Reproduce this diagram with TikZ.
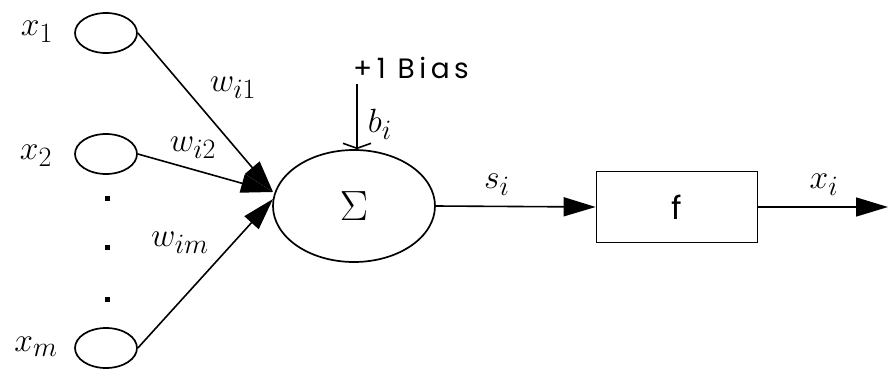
\documentclass[tikz,border=0pt]{standalone}
\usepackage{fontspec}
\newfontfamily\labfont[LetterSpace=16]{Poppins}
\newfontfamily\ffont{Poppins}
\usetikzlibrary{arrows.meta,shapes.geometric}
\newcommand{\mylab}[1]{\scalebox{1.35}{\fontsize{24.88}{28}\selectfont$#1$}}
\tikzset{
  inp/.style={ellipse,draw,line width=1.7pt,minimum width=62pt,minimum height=40pt,inner sep=0pt},
  conn/.style={line width=1.6pt},
  arr/.style={conn,-{Triangle[length=32pt,width=19pt]}},
  lab/.style={inner sep=0pt},
  txt/.style={font=\labfont\fontsize{28}{32}\selectfont,inner sep=0pt},
  dotn/.style={rectangle,fill,inner sep=0pt,minimum size=5pt}
}
\begin{document}
\begin{tikzpicture}[x=1pt,y=-1pt]
\useasboundingbox (0,0) rectangle (888,369);
% inputs
\node[inp] (in1) at (106,33) {};
\node[inp] (in2) at (106,154) {};
\node[inp] (inm) at (106,348) {};
\node[lab] (l1) at (37,32) {\mylab{x_1}};
\node[lab] (l2) at (36,156) {\mylab{x_2}};
\node[lab] (lm) at (36,347) {\mylab{x_m}};
\node[dotn] (d1) at (107,198) {};
\node[dotn] (d2) at (107,247) {};
\node[dotn] (d3) at (107,299) {};
% summation
\node[ellipse,draw,line width=1.7pt,minimum width=162pt,minimum height=112pt,inner sep=0pt] (sum) at (354,206) {\scalebox{1.7}{\fontsize{24.88}{30}\selectfont$\Sigma$}};
\coordinate (tipA) at (273,192);
\coordinate (tipB) at (273,199);
\draw[arr] (in1.east) -- (tipA);
\draw[arr] (in2.east) -- (tipA);
\draw[arr] (inm.east) -- (tipB);
\node[lab] (w1) at (233,88) {\mylab{w_{i1}}};
\node[lab] (w2) at (193,148) {\mylab{w_{i2}}};
\node[lab] (wm) at (180,243) {\mylab{w_{im}}};
% bias
\node[txt] (bias) at (411,68) {+1 Bias};
\coordinate (btop) at (357,84);
\draw[conn,-{Straight Barb[length=5pt,width=28pt]}] (btop) -- (sum.north -| btop);
\node[lab] (bi) at (380,124) {\mylab{b_i}};
% activation
\node[draw,line width=1.7pt,minimum width=161pt,minimum height=71pt,inner sep=0pt] (f) at (677,207) {\ffont\fontsize{32}{36}\selectfont f};
\draw[arr] (sum.east) -- (f.west);
\node[lab] (si) at (497,185) {\mylab{s_i}};
\coordinate (out) at (888,207);
\draw[arr] (f.east) -- (out);
\node[lab] (xi) at (824,185) {\mylab{x_i}};
\end{tikzpicture}
\end{document}
